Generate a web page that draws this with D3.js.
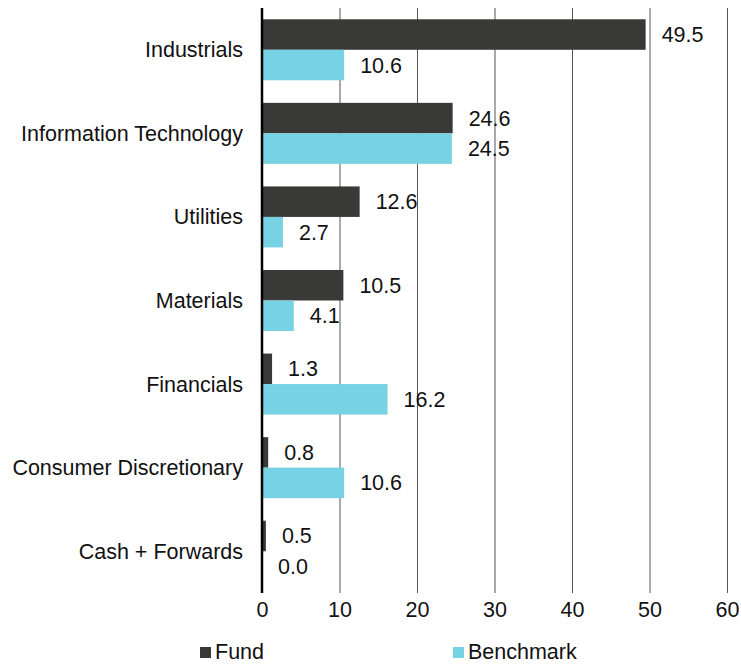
<!DOCTYPE html>
<html>
<head>
<meta charset="utf-8">
<script src="https://cdn.jsdelivr.net/npm/d3@7"></script>
<style>
  body { margin: 0; background: #fff; }
  text { font-family: "Liberation Sans", Arial, sans-serif; fill: #111; }
</style>
</head>
<body>
<script>
// Chart data
var categories = ["Industrials", "Information Technology", "Utilities", "Materials",
  "Financials", "Consumer Discretionary", "Cash + Forwards"];
var fundValues = [49.5, 24.6, 12.6, 10.5, 1.3, 0.8, 0.5];
var benchmarkValues = [10.6, 24.5, 2.7, 4.1, 16.2, 10.6, 0.0];
var seriesNames = ["Fund", "Benchmark"];
var xTicks = [0, 10, 20, 30, 40, 50, 60];

var colors = { Fund: "#393a38", Benchmark: "#77d3e4" };
var fontSize = "21.5px";

var svgWidth = 741;
var svgHeight = 664;
var margin = { top: 8, right: 14, bottom: 71, left: 262 };
var chartWidth = svgWidth - margin.left - margin.right;
var chartHeight = svgHeight - margin.top - margin.bottom;

var svg = d3.select("body")
  .append("svg")
  .attr("width", svgWidth)
  .attr("height", svgHeight);

var chartGroup = svg.append("g")
  .attr("transform", `translate(${margin.left}, ${margin.top})`);

var xScale = d3.scaleLinear()
  .domain([0, 60])
  .range([0, chartWidth]);

var yScale = d3.scaleBand()
  .domain(categories)
  .range([0, chartHeight])
  .paddingInner(0.27)
  .paddingOuter(0.135);

var ySub = d3.scaleBand()
  .domain(seriesNames)
  .range([0, yScale.bandwidth()]);

// gridlines
chartGroup.selectAll(".grid")
  .data(xTicks.slice(1))
  .enter()
  .append("line")
  .attr("x1", d => xScale(d) + 0.5)
  .attr("x2", d => xScale(d) + 0.5)
  .attr("y1", 0)
  .attr("y2", chartHeight)
  .attr("stroke", "#555")
  .attr("stroke-width", 1);

var rows = categories.map((c, i) => ({
  category: c,
  values: [
    { series: "Fund", value: fundValues[i] },
    { series: "Benchmark", value: benchmarkValues[i] }
  ]
}));

var groups = chartGroup.selectAll(".cat")
  .data(rows)
  .enter()
  .append("g")
  .attr("transform", d => `translate(0, ${yScale(d.category)})`);

groups.selectAll("rect")
  .data(d => d.values)
  .enter()
  .append("rect")
  .attr("x", 0)
  .attr("y", d => ySub(d.series))
  .attr("width", d => xScale(d.value))
  .attr("height", ySub.bandwidth())
  .attr("fill", d => colors[d.series]);

groups.selectAll(".val")
  .data(d => d.values)
  .enter()
  .append("text")
  .attr("x", d => xScale(d.value) + 16)
  .attr("y", d => ySub(d.series) + ySub.bandwidth() / 2)
  .attr("dy", "0.35em")
  .style("font-size", fontSize)
  .text(d => d.value.toFixed(1));

// category labels
chartGroup.selectAll(".cat-label")
  .data(categories)
  .enter()
  .append("text")
  .attr("x", -19)
  .attr("y", d => yScale(d) + yScale.bandwidth() / 2)
  .attr("dy", "0.35em")
  .attr("text-anchor", "end")
  .style("font-size", fontSize)
  .text(d => d);

// zero axis line
chartGroup.append("line")
  .attr("x1", 0)
  .attr("x2", 0)
  .attr("y1", 0)
  .attr("y2", chartHeight)
  .attr("stroke", "#000")
  .attr("stroke-width", 2.5);

// bottom axis labels
var bottomAxis = d3.axisBottom(xScale).tickValues(xTicks).tickSize(0).tickPadding(9);
var axisG = chartGroup.append("g")
  .attr("transform", `translate(0, ${chartHeight})`)
  .call(bottomAxis);
axisG.select(".domain").remove();
axisG.selectAll("text")
  .style("font-size", fontSize)
  .style("font-family", "Liberation Sans, Arial, sans-serif")
  .attr("fill", "#111");

// legend
var legendX = [200, 453];
var legend = svg.selectAll(".legend")
  .data(seriesNames)
  .enter()
  .append("g")
  .attr("transform", (d, i) => `translate(${legendX[i]}, 651)`);

legend.append("rect")
  .attr("x", 0)
  .attr("y", -4)
  .attr("width", 11)
  .attr("height", 11)
  .attr("fill", d => colors[d]);

legend.append("text")
  .attr("x", 15)
  .attr("y", 0)
  .attr("dy", "0.35em")
  .style("font-size", fontSize)
  .text(d => d);
</script>
</body>
</html>
